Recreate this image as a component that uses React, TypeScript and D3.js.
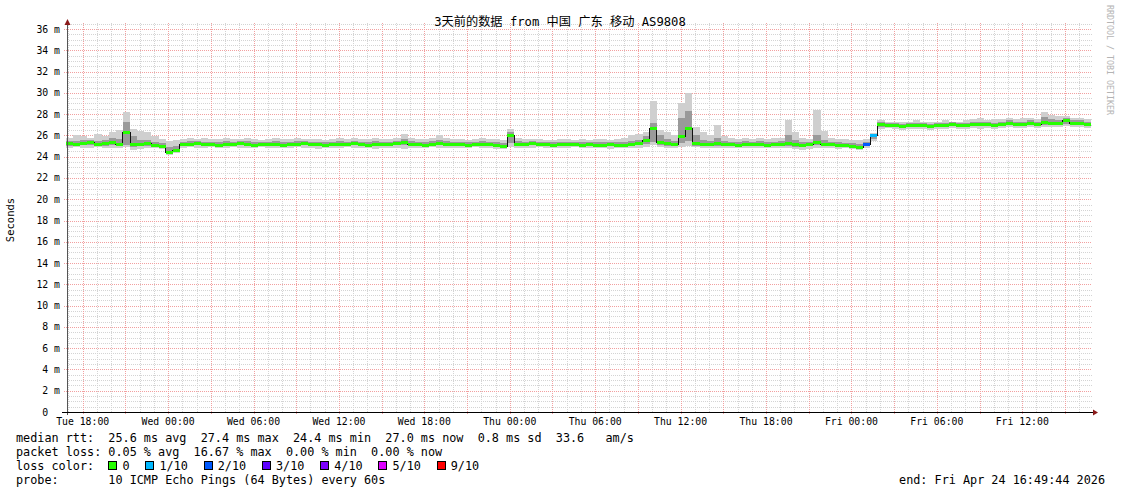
import React from 'react'
import * as d3 from 'd3'

const W = 1121
const H = 494

// time window: 3 days ending at the "end:" stamp, 30 min steps
const endTime = new Date(Date.UTC(2026, 3, 24, 16, 49, 44))
const startTime = new Date(endTime.getTime() - 72 * 3600e3)
const stepMs = 30 * 60e3

// median rtt per step (ms)
const median = [
  25.3, 25.2, 25.3, 25.4, 25.2, 25.3, 25.4, 25.2, 26.3, 25.2, 25.2, 25.3, 25.1, 25.0,
  24.4, 24.6, 25.2, 25.2, 25.3, 25.2, 25.2, 25.1, 25.2, 25.2, 25.3, 25.2, 25.1, 25.2, 25.2, 25.2,
  25.1, 25.2, 25.2, 25.3, 25.2, 25.2, 25.1, 25.2, 25.2, 25.2, 25.3, 25.2, 25.1, 25.2, 25.2, 25.2,
  25.3, 25.4, 25.2, 25.2, 25.1, 25.2, 25.3, 25.2, 25.2, 25.2, 25.1, 25.2, 25.2, 25.2, 25.1, 25.0,
  26.0, 25.2, 25.2, 25.3, 25.2, 25.2, 25.1, 25.2, 25.2, 25.2, 25.1, 25.2, 25.1, 25.1, 25.2, 25.1,
  25.1, 25.2, 25.3, 25.6, 26.7, 25.4, 25.3, 25.2, 25.9, 26.7, 25.3, 25.2, 25.2, 25.3,
  25.2, 25.2, 25.1, 25.2, 25.2, 25.2, 25.1, 25.2, 25.2, 25.3, 25.2, 25.1, 25.2, 25.4, 25.2, 25.2,
  25.1, 25.1, 25.0, 24.9, 25.2, 26.0,
  27.1, 27.0, 27.0, 26.9, 27.0, 27.0, 27.0, 26.9, 27.0, 27.0, 27.1, 27.0, 27.0, 27.1, 27.1,
  27.1, 27.0, 27.1, 27.2, 27.1, 27.1, 27.2, 27.1, 27.3, 27.2, 27.2, 27.4, 27.2, 27.2, 27.1,
]

// slowest ping per step
const high = [
  25.8, 26.0, 25.9, 25.8, 26.1, 25.9, 26.3, 26.5, 28.2, 26.6, 26.4, 26.3, 25.9, 25.7,
  25.5, 25.6, 25.7, 25.8, 25.7, 25.8, 25.7, 25.7, 25.8, 25.7, 25.7, 25.8, 25.7, 25.6, 25.7, 25.8,
  25.7, 25.7, 25.8, 25.7, 25.7, 25.7, 25.6, 25.7, 25.8, 25.7, 25.8, 25.7, 25.7, 25.8, 25.7, 25.7,
  25.8, 26.1, 25.8, 25.7, 25.7, 25.8, 26.0, 25.8, 25.7, 25.7, 25.6, 25.7, 25.8, 25.7, 25.7, 25.6,
  26.6, 25.8, 25.7, 25.7, 25.7, 25.6, 25.6, 25.7, 25.7, 25.6, 25.7, 25.6, 25.7, 25.7, 25.6, 25.7,
  25.8, 26.0, 26.1, 26.3, 29.2, 26.5, 26.3, 26.0, 29.0, 30.0, 26.8, 26.3, 26.0, 27.0,
  25.9, 25.8, 25.7, 25.8, 25.7, 25.8, 25.7, 25.8, 25.8, 27.4, 26.3, 25.8, 25.7, 28.4, 26.4, 25.8,
  25.7, 25.7, 25.6, 25.6, 25.7, 26.2,
  27.4, 27.3, 27.3, 27.3, 27.3, 27.4, 27.3, 27.3, 27.3, 27.4, 27.3, 27.3, 27.4, 27.5, 27.6,
  27.4, 27.5, 27.5, 27.6, 27.5, 27.6, 27.6, 27.5, 28.2, 27.9, 27.8, 27.8, 27.6, 27.6, 27.5,
]

// fastest ping per step
const low = [
  24.8, 24.9, 24.8, 24.8, 24.9, 24.8, 24.8, 24.8, 24.9, 24.6, 24.7, 24.8, 24.8, 24.7,
  24.2, 24.3, 24.8, 24.9, 24.8, 24.8, 24.9, 24.8, 24.8, 24.9, 24.8, 24.8, 24.8, 24.9, 24.8, 24.8,
  24.8, 24.8, 24.9, 24.8, 24.8, 24.7, 24.8, 24.8, 24.8, 24.9, 24.8, 24.8, 24.8, 24.7, 24.8, 24.8,
  24.8, 24.7, 24.8, 24.8, 24.8, 24.9, 24.8, 24.8, 24.8, 24.8, 24.8, 24.9, 24.8, 24.8, 24.7, 24.7,
  24.9, 24.8, 24.8, 24.8, 24.9, 24.8, 24.8, 24.8, 24.8, 24.9, 24.8, 24.8, 24.8, 24.8, 24.7, 24.8,
  24.8, 24.8, 24.8, 24.9, 25.1, 24.9, 24.8, 24.8, 24.9, 25.0, 24.9, 24.8, 24.8, 24.8,
  24.8, 24.8, 24.8, 24.8, 24.8, 24.8, 24.8, 24.8, 24.8, 24.8, 24.7, 24.6, 24.7, 24.8, 24.8, 24.8,
  24.7, 24.8, 24.7, 24.6, 24.8, 25.5,
  26.6, 26.7, 26.6, 26.5, 26.6, 26.6, 26.6, 26.5, 26.6, 26.6, 26.7, 26.6, 26.6, 26.7, 26.6,
  26.7, 26.6, 26.7, 26.8, 26.7, 26.7, 26.8, 26.7, 26.8, 26.8, 26.8, 26.9, 26.8, 26.8, 26.7,
]

// denser middle part of the smoke
const innerHigh = [
  25.5, 25.5, 25.6, 25.6, 25.5, 25.6, 25.8, 25.7, 27.3, 25.9, 25.6, 25.6, 25.4, 25.3,
  24.9, 25.0, 25.4, 25.5, 25.5, 25.4, 25.4, 25.4, 25.5, 25.4, 25.5, 25.5, 25.4, 25.4, 25.4, 25.5,
  25.4, 25.4, 25.5, 25.5, 25.4, 25.4, 25.4, 25.4, 25.5, 25.4, 25.5, 25.4, 25.4, 25.5, 25.4, 25.4,
  25.5, 25.7, 25.5, 25.4, 25.4, 25.5, 25.6, 25.5, 25.4, 25.4, 25.4, 25.4, 25.5, 25.4, 25.4, 25.3,
  26.3, 25.5, 25.4, 25.5, 25.4, 25.4, 25.4, 25.4, 25.4, 25.4, 25.4, 25.4, 25.4, 25.4, 25.4, 25.4,
  25.4, 25.5, 25.6, 25.9, 27.2, 26.0, 25.7, 25.5, 27.6, 28.3, 26.0, 25.6, 25.5, 25.8,
  25.5, 25.4, 25.4, 25.5, 25.4, 25.5, 25.4, 25.4, 25.5, 26.0, 25.6, 25.4, 25.4, 26.0, 25.6, 25.4,
  25.4, 25.3, 25.3, 25.2, 25.4, 26.1,
  27.3, 27.2, 27.2, 27.1, 27.2, 27.2, 27.2, 27.1, 27.2, 27.2, 27.3, 27.2, 27.2, 27.3, 27.3,
  27.3, 27.2, 27.3, 27.4, 27.3, 27.3, 27.4, 27.3, 27.7, 27.5, 27.4, 27.6, 27.4, 27.4, 27.3,
]

const innerLow = [
  25.0, 25.0, 25.1, 25.1, 25.0, 25.0, 25.1, 25.0, 25.1, 24.9, 25.0, 25.0, 24.9, 24.8,
  24.3, 24.4, 25.0, 25.0, 25.1, 25.0, 25.0, 24.9, 25.0, 25.0, 25.1, 25.0, 24.9, 25.0, 25.0, 25.0,
  24.9, 25.0, 25.0, 25.1, 25.0, 25.0, 24.9, 25.0, 25.0, 25.0, 25.1, 25.0, 24.9, 25.0, 25.0, 25.0,
  25.1, 25.1, 25.0, 25.0, 24.9, 25.0, 25.1, 25.0, 25.0, 25.0, 24.9, 25.0, 25.0, 25.0, 24.9, 24.8,
  25.3, 25.0, 25.0, 25.1, 25.0, 25.0, 24.9, 25.0, 25.0, 25.0, 24.9, 25.0, 24.9, 24.9, 25.0, 24.9,
  24.9, 25.0, 25.1, 25.2, 25.4, 25.1, 25.0, 25.0, 25.3, 25.5, 25.0, 25.0, 25.0, 25.0,
  25.0, 25.0, 24.9, 25.0, 25.0, 25.0, 24.9, 25.0, 25.0, 25.0, 24.9, 24.9, 25.0, 25.1, 25.0, 25.0,
  24.9, 24.9, 24.8, 24.7, 25.0, 25.7,
  26.8, 26.8, 26.8, 26.7, 26.8, 26.8, 26.8, 26.7, 26.8, 26.8, 26.9, 26.8, 26.8, 26.9, 26.9,
  26.9, 26.8, 26.9, 27.0, 26.9, 26.9, 27.0, 26.9, 27.0, 27.0, 27.0, 27.1, 27.0, 27.0, 26.9,
]

// steps with packet loss (index into lossColors)
const lossBins = [112, 113]
const lossLevels = [2, 1]

const lossColors = ['#26ff00', '#00b8ff', '#0059ff', '#5e00ff', '#7e00ff', '#dd00ff', '#ff0000']
const lossLabels = ['0', '1/10', '2/10', '3/10', '4/10', '5/10', '9/10']

const yTicks = d3.range(0, 37, 2)

const title = '3天前的数据 from 中国 广东 移动 AS9808'
const rttLine = 'median rtt:  25.6 ms avg  27.4 ms max  24.4 ms min  27.0 ms now  0.8 ms sd  33.6   am/s'
const lossLine = 'packet loss: 0.05 % avg  16.67 % max  0.00 % min  0.00 % now'
const probeLine = 'probe:       10 ICMP Echo Pings (64 Bytes) every 60s'
const endLine = 'end: Fri Apr 24 16:49:44 2026'

const mono = '"DejaVu Sans Mono", "Liberation Mono", monospace'
const titleFont = '"DejaVu Sans Mono", "Noto Sans CJK SC", monospace'

// keep runs of spaces in svg text
const pre = s => s.replace(/ /g, '\u00a0')

const App = () => {
  const x = d3.scaleUtc().domain([startTime, endTime]).range([66, 1091])
  const y = d3.scaleLinear().domain([0, 36]).range([412, 29])
  const plotTop = 23

  const pts = median.map((m, i) => ({
    t: new Date(startTime.getTime() + i * stepMs),
    m, lo: low[i], hi: high[i], ilo: innerLow[i], ihi: innerHigh[i],
  }))
  const closed = [...pts, { ...pts[pts.length - 1], t: endTime }]

  const band = (a, b) => d3.area()
    .x(d => x(d.t))
    .y0(d => y(d[a]))
    .y1(d => y(d[b]))
    .curve(d3.curveStepAfter)(closed)

  const medLine = d3.line()
    .x(d => x(d.t))
    .y(d => Math.round(y(d.m)) + 0.5)
    .curve(d3.curveStepAfter)(closed)

  const lossOf = i => {
    const k = lossBins.indexOf(i)
    return k < 0 ? 0 : lossLevels[k]
  }

  const hourLines = d3.utcHour.every(1).range(startTime, endTime)
  const majorLines = d3.utcHour.every(3).range(startTime, endTime)
  const labelTimes = d3.utcHour.every(6).range(startTime, endTime)
  const fmt = d3.utcFormat('%a %H:%M')
  const minorY = d3.range(0.5, 37, 0.5).filter(v => v % 2 !== 0)

  const charW = 11.8 * 0.602
  const lx = col => 16 + col * charW
  // legend square columns
  const legendCols = []
  let col = 13
  lossLabels.forEach(l => {
    legendCols.push(col)
    col += 2 + l.length + 2.2
  })

  return (
    <svg width={W} height={H} style={{ position: 'absolute', left: 0, top: 0, background: '#fff' }}>
      {/* minor grid */}
      <g shapeRendering="crispEdges" stroke="#d4d4d4" strokeDasharray="1,1">
        {hourLines.map((t, i) => (
          <line key={'vh' + i} x1={Math.round(x(t)) + 0.5} x2={Math.round(x(t)) + 0.5} y1={plotTop} y2={412} />
        ))}
        {minorY.map((v, i) => (
          <line key={'hm' + i} x1={67} x2={1092} y1={Math.round(y(v)) + 0.5} y2={Math.round(y(v)) + 0.5} />
        ))}
      </g>
      {/* major grid */}
      <g shapeRendering="crispEdges" stroke="#f2a0a0" strokeDasharray="1,1">
        {majorLines.map((t, i) => (
          <line key={'vm' + i} x1={Math.round(x(t)) + 0.5} x2={Math.round(x(t)) + 0.5} y1={plotTop} y2={415} />
        ))}
        {yTicks.filter(v => v > 0).map(v => (
          <line key={'hM' + v} x1={64} x2={1092} y1={Math.round(y(v)) + 0.5} y2={Math.round(y(v)) + 0.5} />
        ))}
      </g>

      {/* smoke */}
      <path d={band('lo', 'hi')} fill="#cfcfcf" shapeRendering="crispEdges" />
      <path d={band('ilo', 'ihi')} fill="#9a9a9a" shapeRendering="crispEdges" />
      <path d={medLine} fill="none" stroke="#111" strokeWidth={1} shapeRendering="crispEdges" />
      <g shapeRendering="crispEdges">
        {pts.map((d, i) => {
          const x0 = x(d.t)
          const x1 = i < pts.length - 1 ? x(pts[i + 1].t) : x(endTime)
          return (
            <rect key={'m' + i} x={x0} width={x1 - x0} y={Math.round(y(d.m)) - 1} height={3}
              fill={lossColors[lossOf(i)]} />
          )
        })}
      </g>

      {/* axes */}
      <g shapeRendering="crispEdges">
        <line x1={67.5} x2={67.5} y1={24} y2={415} stroke="#555" />
        <line x1={62} x2={1094} y1={412.5} y2={412.5} stroke="#000" />
      </g>
      <path d="M64.5,25 L67.5,19 L70.5,25 Z" fill="#8b1a1a" />
      <path d="M1093,409.5 L1098,412.5 L1093,415.5 Z" fill="#8b1a1a" />

      {/* y labels */}
      <g fontFamily={mono} fontSize={9.8} fill="#000" textAnchor="end">
        {yTicks.map(v => (
          <text key={v} x={v === 0 ? 60 - 2 * 5.9 : 60} y={y(v) + 3.5}>{pre(v === 0 ? '0' : `${v} m`)}</text>
        ))}
      </g>
      {/* x labels */}
      <g fontFamily={mono} fontSize={9.8} fill="#000" textAnchor="middle">
        {labelTimes.map((t, i) => (
          <text key={i} x={x(t)} y={425}>{pre(fmt(t))}</text>
        ))}
      </g>

      <text x={560} y={26} textAnchor="middle" fontFamily={titleFont} fontSize={12.2} fill="#000">{title}</text>
      <text transform="translate(14,220) rotate(-90)" textAnchor="middle" fontFamily={mono} fontSize={10.5} fill="#000">Seconds</text>
      <text transform="translate(1107,5) rotate(90)" fontFamily={mono} fontSize={8.3} fill="#b4b4b4">{pre('RRDTOOL / TOBI OETIKER')}</text>

      {/* legend */}
      <g fontFamily={mono} fontSize={11.8} fill="#000">
        <text x={16} y={442}>{pre(rttLine)}</text>
        <text x={16} y={456}>{pre(lossLine)}</text>
        <text x={16} y={470}>{pre('loss color:')}</text>
        {lossLabels.map((l, i) => (
          <g key={l}>
            <rect x={Math.round(lx(legendCols[i])) + 0.5} y={461.5} width={8} height={8}
              fill={lossColors[i]} stroke="#000" shapeRendering="crispEdges" />
            <text x={lx(legendCols[i] + 2)} y={470}>{l}</text>
          </g>
        ))}
        <text x={16} y={484}>{pre(probeLine)}</text>
        <text x={1105} y={484} textAnchor="end">{pre(endLine)}</text>
      </g>
    </svg>
  )
}

export default App
